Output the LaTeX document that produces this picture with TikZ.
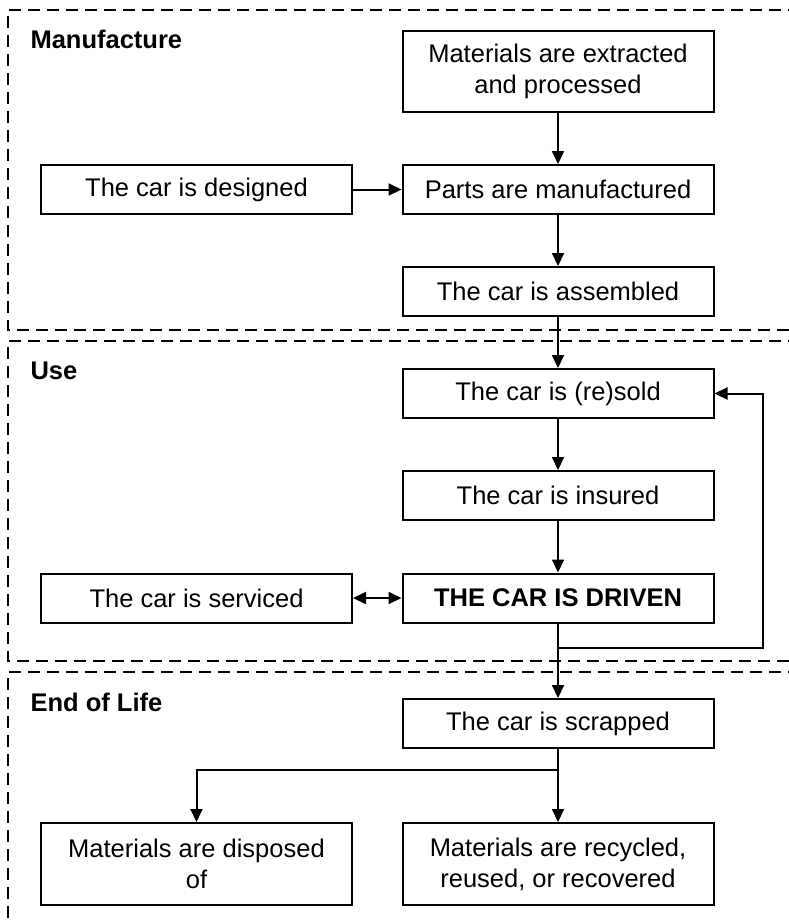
\documentclass[tikz,border=0pt]{standalone}
\usepackage{fontspec}
\setmainfont{Liberation Sans}
\usetikzlibrary{arrows.meta,positioning}

\tikzset{
  stage/.style={draw,line width=1.8pt,dash pattern=on 12pt off 7pt},
  stagename/.style={anchor=base west,font=\bfseries\fontsize{25.5}{31}\selectfont},
  box/.style={draw,line width=2pt,minimum width=311pt,minimum height=49pt,inner sep=2pt,align=center,font=\fontsize{25.5}{31}\selectfont},
  flow/.style={line width=2pt,-{Triangle[length=13pt,width=12pt]}},
  twoway/.style={line width=2pt,{Triangle[length=13pt,width=12pt]}-{Triangle[length=13pt,width=12pt]}},
}

\begin{document}
\begin{tikzpicture}[x=1pt,y=-1pt]
\useasboundingbox (0,0) rectangle (789,922);
\clip (0,0) rectangle (789,922);
%Stage frames
\draw[stage] (800,10) -- (8,10) -- (8,330) -- (800,330);
\draw[stage] (800,341) -- (8,341) -- (8,661) -- (800,661);
\draw[stage] (800,672) -- (8,672) -- (8,930);
\node[stagename] (manuf) at (27,48) {Manufacture};
\node[stagename] (use) at (27,379) {Use};
\node[stagename] (eol) at (27,711) {End of Life};
%Manufacture
\node[box,minimum height=81pt] (extract) at (558,71.5) {Materials are extracted\\and processed};
\node[box] (parts) at (558,189.5) {Parts are manufactured};
\node[box] (design) at (196.5,189.5) {The car is designed};
\node[box] (assemb) at (558,291.5) {The car is assembled};
%Use
\node[box] (sold) at (558,393.5) {The car is (re)sold};
\node[box] (insur) at (558,495.5) {The car is insured};
\node[box,font=\bfseries\fontsize{25.5}{31}\selectfont] (driven) at (558,598) {THE CAR IS DRIVEN};
\node[box] (service) at (196.5,598) {The car is serviced};
%End of life
\node[box] (scrap) at (558,723.5) {The car is scrapped};
\node[box,minimum height=82pt] (dispose) at (196.5,864) {Materials are disposed\\of};
\node[box,minimum height=82pt] (recycle) at (558,864) {Materials are recycled,\\reused, or recovered};
%Arrows
\draw[flow] (extract) -- (parts);
\draw[flow] (design) -- (parts);
\draw[flow] (parts) -- (assemb);
\draw[flow] (assemb) -- (sold);
\draw[flow] (sold) -- (insur);
\draw[flow] (insur) -- (driven);
\draw[twoway] (service) -- (driven);
\draw[flow] (driven) -- (scrap);
\coordinate (loop) at (558,648);
\coordinate (back) at (763,393.5);
\draw[flow] (loop) -| (back) -- (sold.east);
\coordinate (fork) at (558,770);
\draw[flow] (fork) -| (dispose);
\draw[flow] (scrap) -- (recycle);
\end{tikzpicture}
\end{document}
